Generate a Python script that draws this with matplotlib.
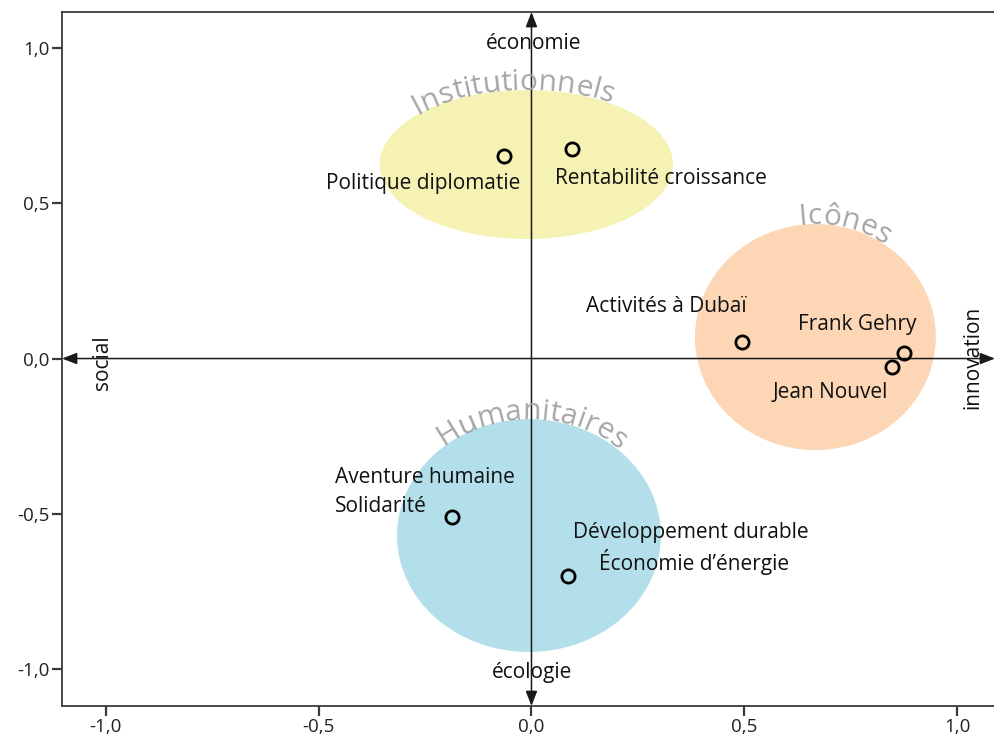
import numpy as np
import matplotlib
matplotlib.use("Agg")
import matplotlib.pyplot as plt
from matplotlib.patches import Ellipse
from matplotlib.font_manager import FontProperties

plt.rcParams['font.family'] = ['Open Sans', 'DejaVu Sans']

# ---- data ----
point_x = [-0.065, 0.095, 0.495, 0.875, 0.848, -0.187, 0.086]
point_y = [0.652, 0.675, 0.053, 0.018, -0.027, -0.510, -0.700]

group_names = ["Institutionnels", "Icônes", "Humanitaires"]
group_cx = [-0.012, 0.667, -0.006]
group_cy = [0.625, 0.069, -0.570]
group_w = [0.689, 0.566, 0.620]
group_h = [0.480, 0.728, 0.750]
group_colors = ["#f6f2b4", "#fcd6b5", "#b2dfea"]

xticks = [-1.0, -0.5, 0.0, 0.5, 1.0]
yticks = [-1.0, -0.5, 0.0, 0.5, 1.0]
tick_labels = ["-1,0", "-0,5", "0,0", "0,5", "1,0"]

axis_names = {"top": "économie", "bottom": "écologie", "left": "social", "right": "innovation"}

# ---- figure ----
W, H = 995, 738
fig = plt.figure(figsize=(W / 100, H / 100), dpi=100)
ax = fig.add_axes([62 / W, 1 - 706 / H, 1 - 62 / W, (706 - 12) / H])
xmin, xmax = -1.103, 1.089
ymin, ymax = -1.119, 1.116
ax.set_xlim(xmin, xmax)
ax.set_ylim(ymin, ymax)

for s in ["left", "top", "bottom"]:
    ax.spines[s].set_color("#3a3a3a")
    ax.spines[s].set_linewidth(1.3)
ax.spines["right"].set_visible(False)

ax.set_xticks(xticks)
ax.set_xticklabels(tick_labels)
ax.set_yticks(yticks)
ax.set_yticklabels(tick_labels)
ax.tick_params(axis="both", direction="out", length=7, width=1.6, color="#3a3a3a",
               labelsize=13.5, labelcolor="#222222", pad=2)

# ellipses
for cx, cy, w, h, c in zip(group_cx, group_cy, group_w, group_h, group_colors):
    ax.add_patch(Ellipse((cx, cy), w, h, facecolor=c, edgecolor="none", zorder=1))

# axis arrows
arrow_kw = dict(arrowstyle="<|-|>,head_length=0.9,head_width=0.35", color="#1a1a1a",
                lw=1.1, shrinkA=0, shrinkB=0)
ax.annotate("", xy=(xmax, 0), xytext=(xmin, 0), arrowprops=arrow_kw,
            annotation_clip=False, zorder=3)
ax.annotate("", xy=(0, ymax), xytext=(0, ymin), arrowprops=arrow_kw,
            annotation_clip=False, zorder=3)

# points
ax.plot(point_x, point_y, linestyle="none", marker="o", markersize=9.5,
        markerfacecolor="none", markeredgecolor="black", markeredgewidth=2, zorder=5)

lab_kw = dict(fontsize=15, color="#111111", zorder=6, va="center")
ax.text(-0.255, 0.565, "Politique diplomatie", ha="center", **lab_kw)
ax.text(0.303, 0.581, "Rentabilité croissance", ha="center", **lab_kw)
ax.text(0.317, 0.166, "Activités à Dubaï", ha="center", **lab_kw)
ax.text(0.765, 0.108, "Frank Gehry", ha="center", **lab_kw)
ax.text(0.702, -0.108, "Jean Nouvel", ha="center", **lab_kw)
ax.text(-0.462, -0.382, "Aventure humaine", ha="left", **lab_kw)
ax.text(-0.462, -0.478, "Solidarité", ha="left", **lab_kw)
ax.text(0.375, -0.559, "Développement durable", ha="center", **lab_kw)
ax.text(0.382, -0.655, "Économie d’énergie", ha="center", **lab_kw)

ax.text(0.006, 1.013, axis_names["top"], ha="center", **lab_kw)
ax.text(0.002, -1.010, axis_names["bottom"], ha="center", **lab_kw)
ax.text(-1.008, -0.012, axis_names["left"], ha="center", rotation=90, **lab_kw)
ax.text(1.037, 0.005, axis_names["right"], ha="center", rotation=90, **lab_kw)

# ---- curved group titles ----
fig.canvas.draw()
renderer = fig.canvas.get_renderer()
prop = FontProperties(family=["Open Sans", "DejaVu Sans"], size=21.5)


def text_w(s):
    if not s:
        return 0.0
    w, h, d = renderer.get_text_width_height_descent(s, prop, ismath=False)
    return w


def curved_text(text, cx, cy, w, h, center_px, offset_px):
    t = np.linspace(np.pi, 0, 2000)
    pts = np.column_stack([cx + w / 2 * np.cos(t), cy + h / 2 * np.sin(t)])
    disp = ax.transData.transform(pts)
    seg = np.hypot(np.diff(disp[:, 0]), np.diff(disp[:, 1]))
    s = np.concatenate([[0], np.cumsum(seg)])
    s0 = np.interp(center_px, disp[:, 0], s)
    total = text_w(text)
    for i, ch in enumerate(text):
        c = (text_w(text[:i]) + text_w(text[:i + 1])) / 2
        si = s0 - total / 2 + c
        x = np.interp(si, s, disp[:, 0])
        y = np.interp(si, s, disp[:, 1])
        x2 = np.interp(si + 1, s, disp[:, 0])
        y2 = np.interp(si + 1, s, disp[:, 1])
        x1 = np.interp(si - 1, s, disp[:, 0])
        y1 = np.interp(si - 1, s, disp[:, 1])
        ang = np.degrees(np.arctan2(y2 - y1, x2 - x1))
        nx, ny = -(y2 - y1), (x2 - x1)
        nn = np.hypot(nx, ny)
        x += nx / nn * offset_px
        y += ny / nn * offset_px
        dx, dy = ax.transData.inverted().transform((x, y))
        ax.text(dx, dy, ch, fontproperties=prop, color="#a6a6a6", rotation=ang,
                rotation_mode="anchor", ha="center", va="baseline", zorder=4)


curved_text(group_names[0], group_cx[0], group_cy[0], group_w[0], group_h[0], 513, 0)
curved_text(group_names[1], group_cx[1], group_cy[1], group_w[1], group_h[1], 844, 0)
curved_text(group_names[2], group_cx[2], group_cy[2], group_w[2], group_h[2], 532, 0)

fig.savefig("out.png", dpi=100)
